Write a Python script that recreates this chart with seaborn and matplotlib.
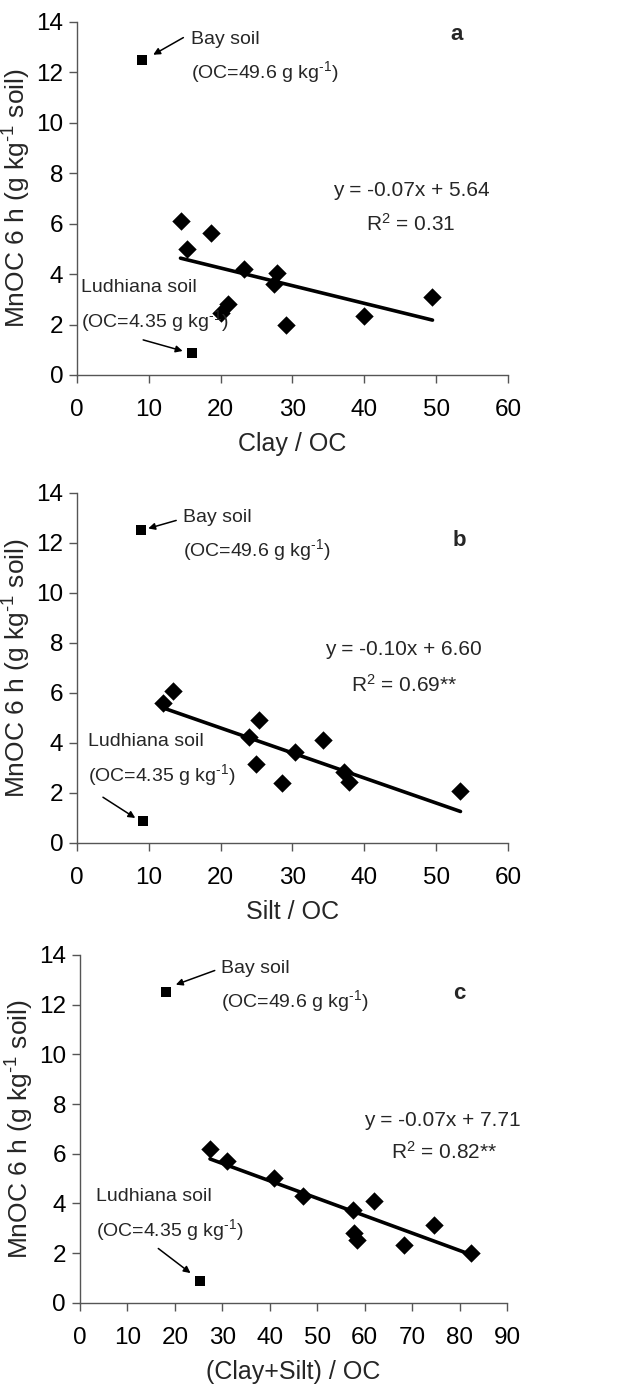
import numpy as np
import pandas as pd
import matplotlib
matplotlib.use("Agg")
import matplotlib.pyplot as plt
import seaborn as sns

# MnOC 6 h (g kg-1 soil) of the eleven regular soils
mnoc_a = [6.12, 4.98, 5.64, 2.44, 2.81, 4.19, 3.62, 4.06, 1.98, 2.34, 3.10]
mnoc_b = [5.59, 6.09, 4.24, 4.91, 3.15, 2.40, 3.65, 4.10, 2.84, 2.44, 2.06]
mnoc_c = [6.21, 5.72, 5.01, 4.30, 3.73, 2.80, 2.55, 4.10, 2.35, 3.15, 2.00]

# ratios of texture fractions to organic carbon
clay_oc = [14.4, 15.3, 18.7, 20.1, 21.0, 23.3, 27.4, 27.8, 29.1, 39.9, 49.5]
silt_oc = [12.0, 13.3, 23.9, 25.4, 24.9, 28.5, 30.3, 34.2, 37.2, 37.9, 53.4]
clay_silt_oc = [27.4, 30.9, 40.9, 47.0, 57.5, 57.8, 58.3, 62.0, 68.3, 74.6, 82.5]

# two outlying soils (Bay, Ludhiana)
outlier_names = ["Bay", "Ludhiana"]
outlier_mnoc = [12.5, 0.88]
outlier_clay_oc = [9.0, 16.0]
outlier_silt_oc = [8.9, 9.2]
outlier_clay_silt_oc = [18.1, 25.3]

# fitted regressions (slope, intercept, R2 label)
fit_slopes = [-0.07, -0.10, -0.07]
fit_intercepts = [5.64, 6.60, 7.71]
eq_labels = ["y = -0.07x + 5.64", "y = -0.10x + 6.60", "y = -0.07x + 7.71"]
r2_labels = ["R$^2$ = 0.31", "R$^2$ = 0.69**", "R$^2$ = 0.82**"]
panel_letters = ["a", "b", "c"]
x_titles = ["Clay / OC", "Silt / OC", "(Clay+Silt) / OC"]
x_limits = [60, 60, 90]

sns.set_theme(style="ticks")
plt.rcParams["font.family"] = ["Liberation Sans", "DejaVu Sans"]
plt.rcParams["mathtext.fontset"] = "custom"
plt.rcParams["mathtext.rm"] = "Liberation Sans"
plt.rcParams["mathtext.it"] = "Liberation Sans:italic"
plt.rcParams["mathtext.bf"] = "Liberation Sans:bold"
plt.rcParams["mathtext.default"] = "regular"

per_kg = r"g kg$^{\text{-}1}$"

fig = plt.figure(figsize=(6.27, 13.98), dpi=100)
rects = [
    [0.123, 0.7318, 0.687, 0.2525],
    [0.123, 0.397, 0.687, 0.2504],
    [0.1276, 0.068, 0.681, 0.249],
]

xs_all = [clay_oc, silt_oc, clay_silt_oc]
ys_all = [mnoc_a, mnoc_b, mnoc_c]
out_x_all = [outlier_clay_oc, outlier_silt_oc, outlier_clay_silt_oc]

# text anchor positions (data units) per panel
bay_text = [(15.8, 13.3), (14.7, 13.0), (29.8, 13.45)]
bay_arrow = [((14.8, 13.38), (10.6, 12.7)), ((13.8, 12.9), (9.9, 12.58)), ((28.4, 13.37), (20.2, 12.8))]
lud_text = [(0.6, 3.47), (1.5, 4.06), (3.4, 4.3)]
lud_arrow = [((9.2, 1.39), (14.7, 0.95)), ((3.6, 1.83), (8.1, 1.0)), ((16.5, 2.19), (23.3, 1.2))]
letter_pos = [(52.8, 13.5), (53.3, 12.1), (79.9, 12.45)]
eq_pos = [(46.6, 7.33), (45.5, 7.75), (76.4, 7.33)]
r2_pos = [(46.5, 5.98), (45.6, 6.32), (76.7, 6.08)]

axis_grey = "#555555"
for i in range(3):
    ax = fig.add_axes(rects[i])
    df = pd.DataFrame({"ratio": xs_all[i], "mnoc": ys_all[i]})
    sns.scatterplot(data=df, x="ratio", y="mnoc", marker="D", s=88,
                    color="black", edgecolor="black", linewidth=0, ax=ax, zorder=3)
    out = pd.DataFrame({"ratio": out_x_all[i], "mnoc": outlier_mnoc, "soil": outlier_names})
    sns.scatterplot(data=out, x="ratio", y="mnoc", marker="s", s=55,
                    color="black", edgecolor="black", linewidth=0, ax=ax, zorder=3)
    fit_x = np.array([min(xs_all[i]), max(xs_all[i])])
    fit_y = fit_slopes[i] * fit_x + fit_intercepts[i]
    sns.lineplot(x=fit_x, y=fit_y, color="black", linewidth=2.6, ax=ax, zorder=2)

    ax.set_xlim(0, x_limits[i])
    ax.set_ylim(0, 14)
    ax.set_xticks(np.arange(0, x_limits[i] + 1, 10))
    ax.set_yticks(np.arange(0, 15, 2))
    for side in ["top", "right"]:
        ax.spines[side].set_visible(False)
    for side in ["left", "bottom"]:
        ax.spines[side].set_color(axis_grey)
        ax.spines[side].set_linewidth(1.0)
    ax.tick_params(axis="both", direction="out", length=6, width=1.0,
                   color=axis_grey, labelcolor="black", labelsize=17.5)
    ax.tick_params(axis="x", pad=11)
    ax.tick_params(axis="y", pad=4)
    ax.set_xlabel(x_titles[i], fontsize=18, labelpad=8)
    ax.set_ylabel(f"MnOC 6 h ({per_kg} soil)", fontsize=19, labelpad=2)

    ax.text(*bay_text[i], "Bay soil", fontsize=14, ha="left", va="center")
    ax.text(bay_text[i][0], bay_text[i][1] - 1.3, f"(OC=49.6 {per_kg})",
            fontsize=14, ha="left", va="center")
    ax.annotate("", xy=bay_arrow[i][1], xytext=bay_arrow[i][0],
                arrowprops=dict(arrowstyle="-|>", color="black", lw=1.1,
                                mutation_scale=10, shrinkA=0, shrinkB=0))
    ax.text(*lud_text[i], "Ludhiana soil", fontsize=14, ha="left", va="center")
    ax.text(lud_text[i][0], lud_text[i][1] - 1.35, f"(OC=4.35 {per_kg})",
            fontsize=14, ha="left", va="center")
    ax.annotate("", xy=lud_arrow[i][1], xytext=lud_arrow[i][0],
                arrowprops=dict(arrowstyle="-|>", color="black", lw=1.1,
                                mutation_scale=10, shrinkA=0, shrinkB=0))
    ax.text(*letter_pos[i], panel_letters[i], fontsize=16, fontweight="bold",
            ha="center", va="center")
    ax.text(*eq_pos[i], eq_labels[i], fontsize=15, ha="center", va="center")
    ax.text(*r2_pos[i], r2_labels[i], fontsize=15, ha="center", va="center")

fig.savefig("out.png", dpi=100, facecolor="white")
